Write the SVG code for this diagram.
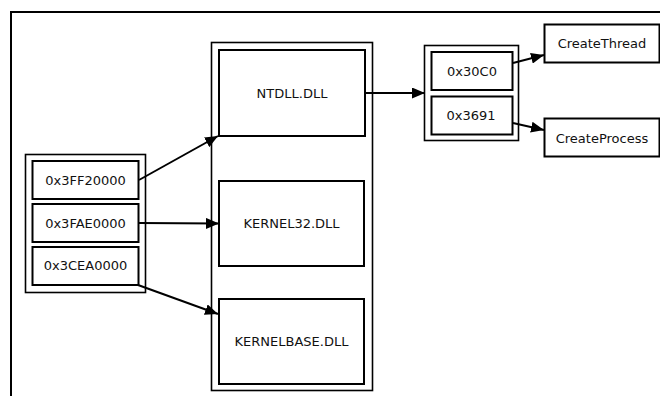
<svg xmlns="http://www.w3.org/2000/svg" width="660" height="396" viewBox="0 0 660 396">
<defs>
<marker id="ah" markerWidth="13" markerHeight="11" refX="13" refY="5.5" orient="auto" markerUnits="userSpaceOnUse">
<path d="M0,0 L13,5.5 L0,11 Z" fill="#000"/>
</marker>
<style>
.o{fill:#fff;stroke:#000;stroke-width:1.6}
.b{fill:#fff;stroke:#000;stroke-width:2}
.t{font-family:"DejaVu Sans",sans-serif;font-size:13px;fill:#111;text-anchor:middle;dominant-baseline:central}
.c{fill:none;stroke:#000;stroke-width:2;marker-end:url(#ah)}
</style>
</defs>
<rect width="660" height="396" fill="#fff"/>
<path d="M11,400 V12 H664" fill="none" stroke="#000" stroke-width="2"/>
<g id="dlls">
<rect class="o" x="211.5" y="42.5" width="161" height="348"/>
<g id="ntdll"><rect class="b" x="219" y="50" width="146" height="86"/><text class="t" x="292" y="93">NTDLL.DLL</text></g>
<g id="kernel32"><rect class="b" x="219" y="181" width="145" height="85"/><text class="t" x="291.5" y="223.5">KERNEL32.DLL</text></g>
<g id="kernelbase"><rect class="b" x="219" y="299" width="145" height="85"/><text class="t" x="291.5" y="341.5">KERNELBASE.DLL</text></g>
</g>
<g id="bases">
<rect class="o" x="25.5" y="154.5" width="120" height="138"/>
<g id="b1"><rect class="b" x="32.5" y="161" width="106" height="38"/><text class="t" x="85.5" y="180">0x3FF20000</text></g>
<g id="b2"><rect class="b" x="32.5" y="204" width="106" height="38"/><text class="t" x="85.5" y="223">0x3FAE0000</text></g>
<g id="b3"><rect class="b" x="32.5" y="247" width="106" height="38"/><text class="t" x="85.5" y="265">0x3CEA0000</text></g>
</g>
<g id="ords">
<rect class="o" x="424.5" y="45.5" width="94" height="95"/>
<g id="o1"><rect class="b" x="431.5" y="52" width="81" height="38"/><text class="t" x="472" y="71">0x30C0</text></g>
<g id="o2"><rect class="b" x="431.5" y="96.5" width="81" height="38"/><text class="t" x="471" y="115.5">0x3691</text></g>
</g>
<g id="createthread"><rect class="b" x="544.5" y="24.5" width="115" height="38"/><text class="t" x="602" y="43">CreateThread</text></g>
<g id="createprocess"><rect class="b" x="544.5" y="118.5" width="115" height="38"/><text class="t" x="602" y="138">CreateProcess</text></g>
<g id="connectors">
<path class="c" d="M139,180 L218,136"/>
<path class="c" d="M139,223 L219,223.5"/>
<path class="c" d="M138,285 L218,314"/>
<path class="c" d="M365,93 L425,93"/>
<path class="c" d="M513,63 L544,55"/>
<path class="c" d="M513,123 L544,130"/>
</g>
</svg>
